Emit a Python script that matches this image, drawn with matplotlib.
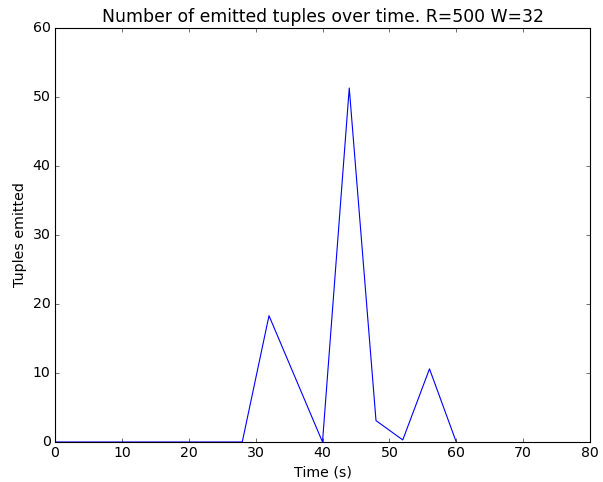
import matplotlib
matplotlib.use("Agg")
import matplotlib.pyplot as plt

plt.style.use("classic")
plt.rcParams["font.size"] = 12.75

# Emitted tuples sampled over time
time_s = [0, 4, 8, 12, 16, 20, 24, 28, 32, 40, 44, 48, 52, 56, 60]
tuples_emitted = [0, 0, 0, 0, 0, 0, 0, 0, 18.3, 0, 51.3, 3.1, 0.3, 10.6, 0]

fig = plt.figure(figsize=(603 / 80, 482 / 80), dpi=80)
ax = fig.add_axes([55 / 603, 1 - 442 / 482, (590 - 55) / 603, (442 - 28) / 482])
ax.plot(time_s, tuples_emitted, color="b", linewidth=1)
ax.set_xlim(0, 80)
ax.set_ylim(0, 60)
ax.set_title("Number of emitted tuples over time. R=500 W=32", fontsize=15.5)
ax.set_xlabel("Time (s)")
ax.set_ylabel("Tuples emitted")
fig.savefig("out.png", dpi=80)
